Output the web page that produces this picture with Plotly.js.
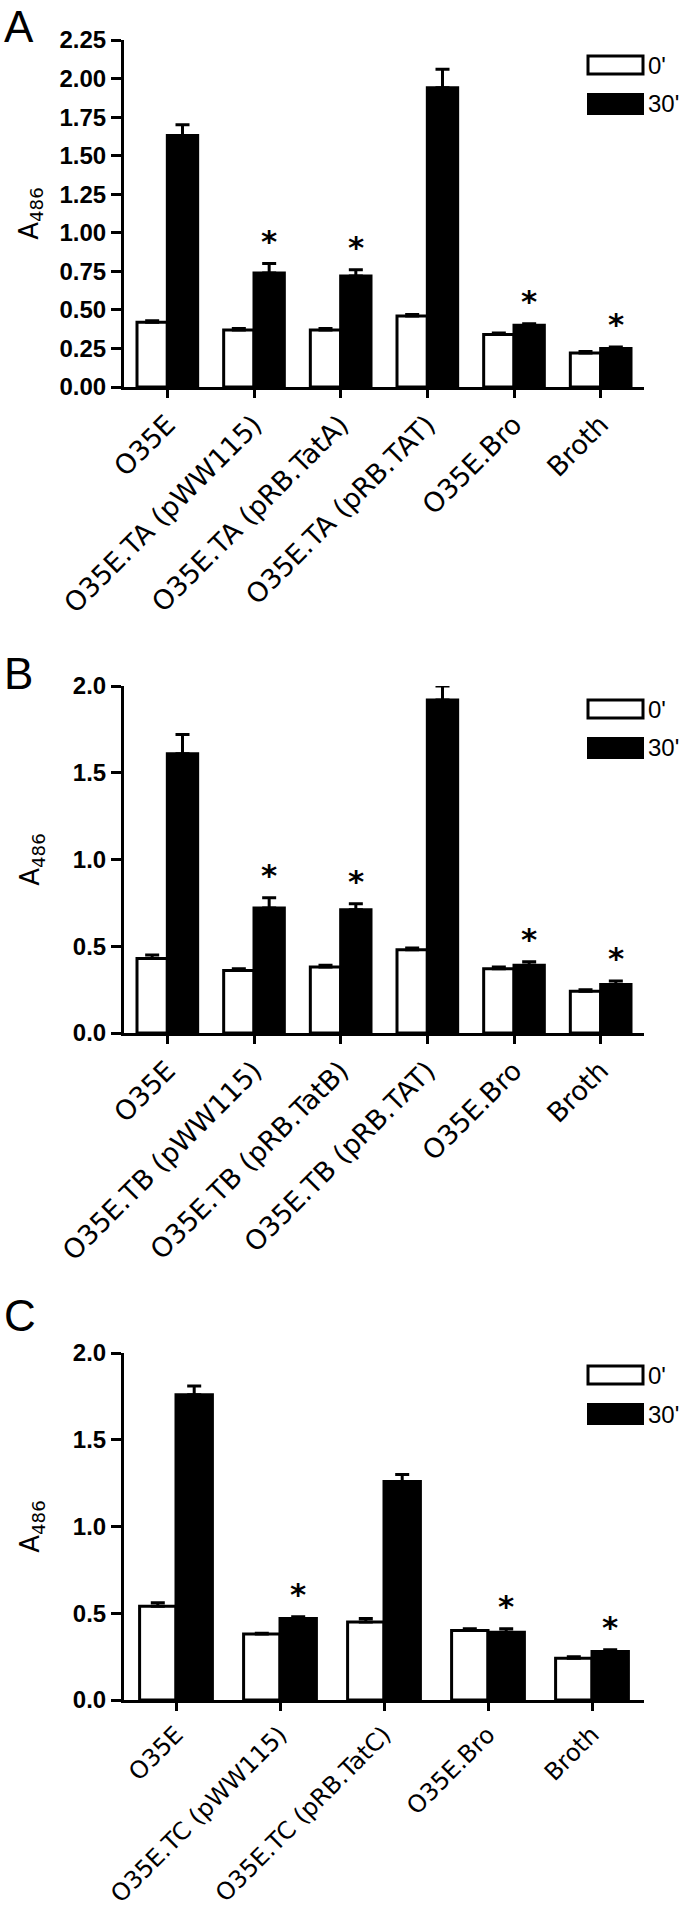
<!DOCTYPE html>
<html>
<head>
<meta charset="utf-8">
<script src="https://cdn.plot.ly/plotly-3.0.1.min.js"></script>
<style>html,body{margin:0;padding:0;background:#fff;}#chart{width:685px;height:1910px;}</style>
</head>
<body>
<div id="chart"></div>
<script>
// ---- Data ----
const catsA = ['O35E', 'O35E.TA (pWW115)', 'O35E.TA (pRB.TatA)', 'O35E.TA (pRB.TAT)', 'O35E.Bro', 'Broth'];
const a0 = [0.42, 0.37, 0.37, 0.46, 0.34, 0.22];
const a0err = [0.01, 0.01, 0.01, 0.01, 0.01, 0.01];
const a30 = [1.63, 0.74, 0.72, 1.94, 0.40, 0.25];
const a30err = [0.07, 0.06, 0.04, 0.12, 0.01, 0.01];
const aStar = [false, true, true, false, true, true];

const catsB = ['O35E', 'O35E.TB (pWW115)', 'O35E.TB (pRB.TatB)', 'O35E.TB (pRB.TAT)', 'O35E.Bro', 'Broth'];
const b0 = [0.43, 0.36, 0.38, 0.48, 0.37, 0.24];
const b0err = [0.02, 0.01, 0.01, 0.01, 0.01, 0.01];
const b30 = [1.61, 0.72, 0.71, 1.92, 0.39, 0.28];
const b30err = [0.11, 0.06, 0.035, 0.08, 0.02, 0.02];
const bStar = [false, true, true, false, true, true];

const catsC = ['O35E', 'O35E.TC (pWW115)', 'O35E.TC (pRB.TatC)', 'O35E.Bro', 'Broth'];
const c0 = [0.54, 0.38, 0.45, 0.40, 0.24];
const c0err = [0.02, 0.005, 0.02, 0.01, 0.01];
const c30 = [1.76, 0.47, 1.26, 0.39, 0.28];
const c30err = [0.05, 0.01, 0.04, 0.02, 0.01];
const cStar = [false, true, false, true, true];

const seriesNames = ["0'", "30'"];
const panelLabels = ['A', 'B', 'C'];
const yTitle = 'A<sub>486</sub>';
const yTickFormats = ['.2f', '.1f', '.1f'];
const yRanges = [[0, 2.25], [0, 2.0], [0, 2.0]];
const yDticks = [0.25, 0.5, 0.5];

// ---- Layout geometry (pixels) ----
const W = 685, H = 1910;
const xL = 124, xR = 644;
const panels = [
  {cats: catsA, v0: a0, e0: a0err, v30: a30, e30: a30err, star: aStar, top: 40, bottom: 387, label: 8, leg: 56, xfs: 27, so: 14},
  {cats: catsB, v0: b0, e0: b0err, v30: b30, e30: b30err, star: bStar, top: 686, bottom: 1033, label: 655, leg: 700, xfs: 27, so: 26},
  {cats: catsC, v0: c0, e0: c0err, v30: c30, e30: c30err, star: cStar, top: 1353, bottom: 1700, label: 1297, leg: 1366, xfs: 24, so: 26}
];

const FONT = 'Liberation Sans, Arial, sans-serif';
const WIDE = 'DejaVu Sans, Liberation Sans, sans-serif';
const px = x => x / W;
const py = y => 1 - y / H;

const data = [];
const annotations = [];
const shapes = [];
const layout = {
  width: W, height: H,
  margin: {l: 0, r: 0, t: 0, b: 0},
  paper_bgcolor: '#fff', plot_bgcolor: '#fff',
  barmode: 'group', bargap: 0.3, bargroupgap: 0,
  showlegend: false,
  font: {family: FONT, color: '#000'},
  annotations: annotations,
  shapes: shapes
};

panels.forEach((p, i) => {
  const sfx = i === 0 ? '' : String(i + 1);
  const xa = 'x' + sfx, ya = 'y' + sfx;
  data.push({
    type: 'bar', name: seriesNames[0], x: p.cats, y: p.v0, xaxis: xa, yaxis: ya,
    marker: {color: '#fff', line: {color: '#000', width: 3}},
    error_y: {type: 'data', symmetric: false, array: p.e0, arrayminus: p.e0.map(() => 0), color: '#000', thickness: 3, width: 7}
  });
  data.push({
    type: 'bar', name: seriesNames[1], x: p.cats, y: p.v30, xaxis: xa, yaxis: ya,
    marker: {color: '#000', line: {color: '#000', width: 3}},
    error_y: {type: 'data', symmetric: false, array: p.e30, arrayminus: p.e30.map(() => 0), color: '#000', thickness: 3, width: 7}
  });
  layout['xaxis' + sfx] = {
    domain: [px(xL), px(xR)], anchor: ya, type: 'category',
    showline: true, linewidth: 3, linecolor: '#000',
    ticks: 'outside', ticklen: 8, tickwidth: 3, tickcolor: '#000',
    tickangle: -45, tickfont: {family: WIDE, size: p.xfs, color: '#000'},
    showgrid: false, zeroline: false, fixedrange: true
  };
  layout['yaxis' + sfx] = {
    domain: [py(p.bottom), py(p.top)], anchor: xa, range: yRanges[i],
    dtick: yDticks[i], tick0: 0, tickformat: yTickFormats[i],
    showline: true, linewidth: 3, linecolor: '#000',
    ticks: 'outside', ticklen: 10, tickwidth: 3, tickcolor: '#000',
    tickfont: {family: FONT, size: 24, color: '#000', weight: 'bold'},
    title: {text: yTitle, standoff: p.so, font: {family: WIDE, size: 26, color: '#000'}},
    automargin: false,
    showgrid: false, zeroline: false, fixedrange: true
  };
  // panel label
  annotations.push({
    xref: 'paper', yref: 'paper', x: px(2), y: py(p.label - 8),
    text: panelLabels[i], showarrow: false, xanchor: 'left', yanchor: 'top',
    font: {family: FONT, size: 44, color: '#000'}
  });
  // significance asterisks over 30' bars
  const slot = (xR - xL) / p.cats.length;
  p.cats.forEach((c, k) => {
    if (!p.star[k]) return;
    annotations.push({
      xref: xa, yref: ya, x: c, y: p.v30[k] + p.e30[k], xshift: slot * 0.175, yshift: 3,
      text: '*', showarrow: false, xanchor: 'center', yanchor: 'bottom',
      font: {family: WIDE, size: 31, color: '#000', weight: 'bold'}
    });
  });
  // legend (drawn)
  const lx0 = 588, lx1 = 643;
  shapes.push({type: 'rect', xref: 'paper', yref: 'paper', x0: px(lx0), x1: px(lx1), y0: py(p.leg), y1: py(p.leg + 18),
    line: {color: '#000', width: 3}, fillcolor: '#fff'});
  shapes.push({type: 'rect', xref: 'paper', yref: 'paper', x0: px(lx0), x1: px(lx1), y0: py(p.leg + 38), y1: py(p.leg + 58),
    line: {color: '#000', width: 2}, fillcolor: '#000'});
  annotations.push({xref: 'paper', yref: 'paper', x: px(lx1 + 3), y: py(p.leg + 9), text: seriesNames[0], showarrow: false,
    xanchor: 'left', yanchor: 'middle', font: {family: FONT, size: 24, color: '#000'}});
  annotations.push({xref: 'paper', yref: 'paper', x: px(lx1 + 3), y: py(p.leg + 48), text: seriesNames[1], showarrow: false,
    xanchor: 'left', yanchor: 'middle', font: {family: FONT, size: 24, color: '#000'}});
});

Plotly.newPlot('chart', data, layout, {displayModeBar: false, staticPlot: true});
</script>
</body>
</html>
